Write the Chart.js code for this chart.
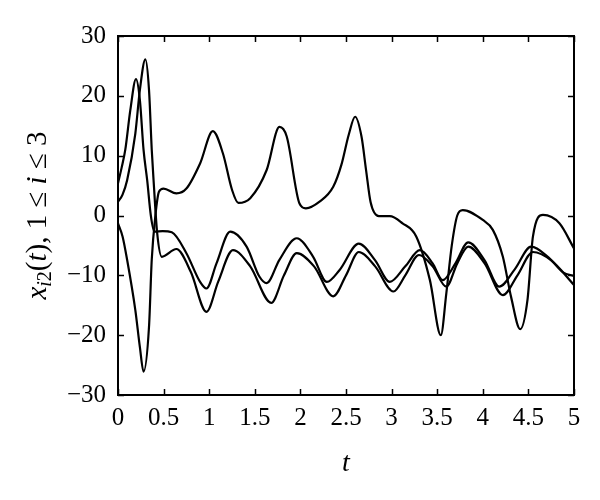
<!DOCTYPE html>
<html>
<head>
<meta charset="utf-8">
<script src="https://cdn.jsdelivr.net/npm/chart.js@4"></script>
<style>
  html, body { margin: 0; padding: 0; background: #fff; }
  #wrap { width: 600px; height: 500px; }
</style>
</head>
<body>
<div id="wrap"><canvas id="chart" width="600" height="500"></canvas></div>
<script>
// valores (t, x_i2)
const t1 = [0, 0.04, 0.08, 0.135, 0.197, 0.24, 0.28, 0.32, 0.36, 0.40, 0.49, 0.59, 0.75, 0.90, 0.97, 1.08, 1.23, 1.41, 1.55, 1.63, 1.77, 1.96, 2.14, 2.29, 2.43, 2.64, 2.82, 2.98, 3.15, 3.31, 3.45, 3.56, 3.70, 3.84, 4.02, 4.18, 4.35, 4.53, 4.72, 4.88, 5.0];
const v1 = [5.4, 8, 11, 17.6, 22.8, 19.3, 11, 5.9, 0, -2.7, -2.6, -2.8, -6.3, -11.1, -12.2, -8, -2.7, -5.2, -10.2, -11.3, -7.4, -3.8, -6.9, -11.1, -9.1, -4.7, -7.5, -11.1, -8.5, -5.8, -8, -10.8, -8, -4.5, -7.5, -11.9, -9, -5.2, -7, -9.5, -10.1];

const t2 = [0, 0.05, 0.10, 0.19, 0.24, 0.30, 0.34, 0.37, 0.39, 0.43, 0.48, 0.64, 0.80, 0.97, 1.10, 1.26, 1.45, 1.68, 1.82, 1.96, 2.15, 2.36, 2.50, 2.64, 2.82, 3.02, 3.15, 3.30, 3.45, 3.60, 3.72, 3.84, 4.02, 4.22, 4.38, 4.55, 4.75, 5.0];
const v2 = [2.3, 3.5, 5.9, 13.7, 21, 26.1, 21, 11, 5.9, -3, -6.9, -5.6, -9.5, -16.1, -11, -5.8, -8.5, -14.6, -10, -6.3, -8.5, -13.5, -10, -6.1, -8.5, -12.7, -10, -6.6, -8.5, -11.9, -8, -5.2, -8, -13.3, -10, -6.1, -7.5, -11.6];

const t3 = [0, 0.05, 0.10, 0.19, 0.24, 0.28, 0.34, 0.37, 0.41, 0.45, 0.50, 0.64, 0.75, 0.90, 1.04, 1.15, 1.25, 1.32, 1.45, 1.63, 1.77, 1.85, 1.99, 2.06, 2.21, 2.36, 2.45, 2.53, 2.60, 2.67, 2.72, 2.77, 2.86, 2.98, 3.12, 3.27, 3.42, 3.54, 3.60, 3.66, 3.72, 3.78, 4.0, 4.11, 4.22, 4.31, 4.41, 4.49, 4.55, 4.66, 4.84, 5.0];
const v3 = [-1.3, -3.5, -7.4, -15.8, -22, -26.1, -18.6, -7.4, 0, 4.0, 4.5, 3.7, 4.5, 8.7, 14.1, 10.4, 4.3, 2.1, 2.9, 7.6, 14.8, 13.2, 2.0, 1.2, 2.3, 4.8, 8.5, 13.5, 16.5, 13.2, 7.6, 2.2, -0.1, -0.1, -1.3, -3.5, -10.8, -20.0, -13, -5, 0, 0.9, -0.75, -2.4, -6.9, -13.6, -19.0, -14.1, -3.5, 0.1, -1.3, -5.5];

const xTicks = [0, 0.5, 1, 1.5, 2, 2.5, 3, 3.5, 4, 4.5, 5];
const yTicks = [-30, -20, -10, 0, 10, 20, 30];

const serif = "'Liberation Serif', 'Times New Roman', Tinos, Times, serif";

function toPoints(ts, vs) {
    return ts.map((t, i) => ({ x: t, y: vs[i] }));
}

function lineSet(ts, vs) {
    return {
        data: toPoints(ts, vs),
        showLine: true,
        borderColor: '#000',
        borderWidth: 2.2,
        pointRadius: 0,
        cubicInterpolationMode: 'monotone',
        fill: false
    };
}

// marcas hacia dentro, marco y títulos de ejes
const framePlugin = {
    id: 'frame',
    afterDraw(chart) {
        const ctx = chart.ctx;
        const a = chart.chartArea;
        const xs = chart.scales.x, ys = chart.scales.y;
        const len = 6;
        ctx.save();
        ctx.strokeStyle = '#000';
        ctx.lineWidth = 1.5;
        ctx.beginPath();
        xTicks.forEach(v => {
            const px = Math.round(xs.getPixelForValue(v)) + 0.5;
            ctx.moveTo(px, a.bottom); ctx.lineTo(px, a.bottom - len);
            ctx.moveTo(px, a.top); ctx.lineTo(px, a.top + len);
        });
        yTicks.forEach(v => {
            const py = Math.round(ys.getPixelForValue(v)) + 0.5;
            ctx.moveTo(a.left, py); ctx.lineTo(a.left + len, py);
            ctx.moveTo(a.right, py); ctx.lineTo(a.right - len, py);
        });
        ctx.stroke();
        ctx.lineWidth = 2;
        ctx.strokeRect(a.left, a.top, a.right - a.left, a.bottom - a.top);

        // título eje x
        ctx.fillStyle = '#000';
        ctx.textAlign = 'center';
        ctx.textBaseline = 'alphabetic';
        ctx.font = 'italic 28px ' + serif;
        ctx.fillText('t', (a.left + a.right) / 2, 471);

        // título eje y: x_{i2}(t), 1 ≤ i ≤ 3
        const parts = [
            { s: 'x', f: 'italic 29px ', dy: 0 },
            { s: 'i', f: 'italic 20px ', dy: 5 },
            { s: '2', f: '20px ', dy: 5 },
            { s: '(', f: '29px ', dy: 0 },
            { s: 't', f: 'italic 29px ', dy: 0 },
            { s: '), 1 \u2264 ', f: '29px ', dy: 0 },
            { s: 'i', f: 'italic 29px ', dy: 0 },
            { s: ' \u2264 3', f: '29px ', dy: 0 }
        ];
        let w = 0;
        parts.forEach(p => { ctx.font = p.f + serif; p.w = ctx.measureText(p.s).width; w += p.w; });
        ctx.translate(46, (a.top + a.bottom) / 2);
        ctx.rotate(-Math.PI / 2);
        ctx.textAlign = 'left';
        let x0 = -w / 2;
        parts.forEach(p => {
            ctx.font = p.f + serif;
            ctx.fillText(p.s, x0, p.dy);
            x0 += p.w;
        });
        ctx.restore();
    }
};

const config = {
    type: 'scatter',
    data: { datasets: [lineSet(t1, v1), lineSet(t2, v2), lineSet(t3, v3)] },
    options: {
        responsive: false,
        animation: false,
        layout: { padding: { top: 36, right: 26, left: 0, bottom: 0 } },
        plugins: { legend: { display: false }, tooltip: { enabled: false } },
        scales: {
            x: {
                type: 'linear', min: 0, max: 5,
                afterBuildTicks: s => { s.ticks = xTicks.map(v => ({ value: v })); },
                afterFit: s => { s.height = 105; },
                grid: { display: false, drawTicks: false },
                border: { display: false },
                ticks: {
                    color: '#000', font: { family: serif, size: 25 }, padding: 8, maxRotation: 0, autoSkip: false,
                    callback: v => String(v)
                }
            },
            y: {
                type: 'linear', min: -30, max: 30,
                afterBuildTicks: s => { s.ticks = yTicks.map(v => ({ value: v })); },
                afterFit: s => { s.width = 118; },
                grid: { display: false, drawTicks: false },
                border: { display: false },
                ticks: {
                    color: '#000', font: { family: serif, size: 25 }, padding: 12,
                    callback: v => String(v).replace('-', '\u2212')
                }
            }
        }
    },
    plugins: [framePlugin]
};

new Chart(document.getElementById('chart').getContext('2d'), config);
</script>
</body>
</html>
